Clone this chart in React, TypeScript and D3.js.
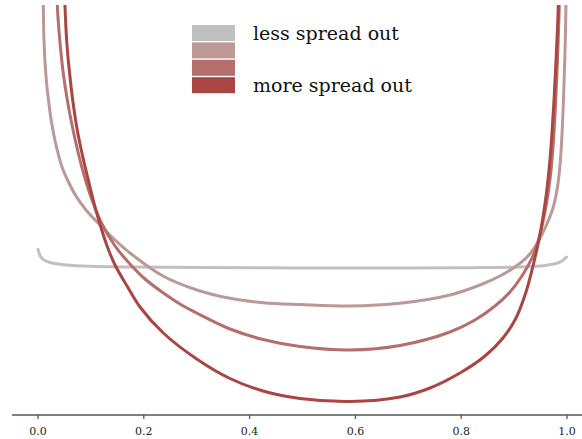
import React from "react";
import * as d3 from "d3";

const W = 582;
const H = 439;

// x ticks
const xTicks = [0, 0.2, 0.4, 0.6, 0.8, 1.0];

// legend labels (top and bottom entries carry text)
const legendLabels = ["less spread out", "", "", "more spread out"];
const seriesColors = ["#c0c0c0", "#bc9896", "#b46e6b", "#a94643"];

// series: [x, density]
const seriesGray: [number, number][] = [
  [0.0, 1.657], [0.0038, 1.595], [0.0076, 1.565], [0.0151, 1.54], [0.0265, 1.52],
  [0.0529, 1.5], [0.0983, 1.487], [0.1739, 1.48], [0.3062, 1.475], [0.4953, 1.47],
  [0.6843, 1.47], [0.8166, 1.473], [0.9112, 1.48], [0.9584, 1.495], [0.9792, 1.515],
  [0.9905, 1.54], [0.9991, 1.58],
];

const seriesPink: [number, number][] = [
  [0.0091, 4.35], [0.01, 4.1], [0.0113, 3.75], [0.0136, 3.5], [0.0166, 3.3],
  [0.0198, 3.15], [0.0255, 2.93], [0.034, 2.7], [0.0454, 2.48], [0.0567, 2.34],
  [0.0718, 2.19], [0.0907, 2.05], [0.1172, 1.9], [0.1456, 1.75], [0.1739, 1.62],
  [0.2363, 1.39], [0.3005, 1.25], [0.3629, 1.167], [0.4259, 1.123], [0.4953, 1.105],
  [0.5898, 1.09], [0.6843, 1.117], [0.7788, 1.2], [0.8355, 1.3], [0.8733, 1.39],
  [0.9017, 1.48], [0.9263, 1.59], [0.9452, 1.73], [0.9603, 1.89], [0.9735, 2.07],
  [0.9811, 2.25], [0.9868, 2.5], [0.9905, 2.8], [0.9943, 3.3], [0.9972, 3.85],
  [0.9985, 4.35],
];

const seriesMedium: [number, number][] = [
  [0.035, 4.55], [0.0365, 4.1], [0.0388, 3.9], [0.0429, 3.65], [0.0482, 3.4],
  [0.0554, 3.15], [0.0643, 2.9], [0.0747, 2.65], [0.087, 2.4], [0.1021, 2.15],
  [0.121, 1.91], [0.1456, 1.69], [0.1739, 1.51], [0.2023, 1.36], [0.2344, 1.23],
  [0.2684, 1.11], [0.3, 1.02], [0.3629, 0.86], [0.4253, 0.755], [0.4953, 0.685],
  [0.5898, 0.65], [0.6843, 0.695], [0.7788, 0.83], [0.8261, 0.95], [0.8639, 1.09],
  [0.8922, 1.23], [0.9149, 1.39], [0.9338, 1.57], [0.9471, 1.77], [0.9565, 1.98],
  [0.9641, 2.21], [0.9698, 2.45], [0.9745, 2.75], [0.9783, 3.1], [0.9820, 3.55],
  [0.9849, 4.0], [0.9864, 4.35],
];

const seriesDark: [number, number][] = [
  [0.0497, 4.55], [0.051, 4.1], [0.0548, 3.7], [0.0595, 3.43], [0.0656, 3.15],
  [0.0732, 2.88], [0.0826, 2.63], [0.0951, 2.35], [0.111, 2.02], [0.1299, 1.7],
  [0.1456, 1.5], [0.1683, 1.29], [0.1928, 1.08], [0.2369, 0.82], [0.3, 0.56],
  [0.3629, 0.365], [0.4253, 0.24], [0.4953, 0.165], [0.5898, 0.135], [0.6843, 0.18],
  [0.7410, 0.27], [0.7977, 0.42], [0.8450, 0.59], [0.8790, 0.77], [0.9036, 0.97],
  [0.9225, 1.23], [0.9357, 1.49], [0.9461, 1.73], [0.9546, 1.98], [0.9612, 2.22],
  [0.9669, 2.5], [0.9716, 2.82], [0.9760, 3.2], [0.9797, 3.6], [0.9830, 4.0],
  [0.9845, 4.35],
];

const allSeries = [seriesGray, seriesPink, seriesMedium, seriesDark];

export default function App() {
  const x = d3.scaleLinear().domain([0, 1]).range([38, 567]);
  const y = d3.scaleLinear().domain([0, 4.1]).range([415, 5]);
  const line = d3
    .line<[number, number]>()
    .x((d) => x(d[0]))
    .y((d) => y(d[1]))
    .curve(d3.curveCatmullRom.alpha(0.5));

  const axisY = y(0);
  const font = "'DejaVu Serif', serif";

  return (
    <svg
      width={W}
      height={H}
      style={{ position: "absolute", left: 0, top: 0, background: "#fff" }}
    >
      <defs>
        <clipPath id="plotClip">
          <rect x={0} y={y(4.1)} width={W} height={axisY - y(4.1)} />
        </clipPath>
      </defs>
      <g clipPath="url(#plotClip)">
        {allSeries.map((s, i) => (
          <path
            key={i}
            d={line(s) || ""}
            fill="none"
            stroke={seriesColors[i]}
            strokeWidth={3}
            strokeLinecap="round"
            strokeLinejoin="round"
          />
        ))}
      </g>
      {/* axis */}
      <line
        x1={x(-0.049)}
        x2={x(1.03)}
        y1={axisY}
        y2={axisY}
        stroke="#555"
        strokeWidth={1.3}
      />
      {xTicks.map((t) => (
        <g key={t} transform={`translate(${x(t)},${axisY})`}>
          <line y1={0} y2={4} stroke="#555" strokeWidth={1.3} />
          <text
            y={20}
            textAnchor="middle"
            fontFamily={font}
            fontSize={11}
            fill="#222"
          >
            {t.toFixed(1)}
          </text>
        </g>
      ))}
      {/* legend */}
      {seriesColors.map((c, i) => (
        <g key={c} transform={`translate(192,${25 + i * 17.4})`}>
          <rect width={43} height={16} fill={c} />
          {legendLabels[i] ? (
            <text x={61} y={15} fontFamily={font} fontSize={19} fill="#111">
              {legendLabels[i]}
            </text>
          ) : null}
        </g>
      ))}
    </svg>
  );
}
